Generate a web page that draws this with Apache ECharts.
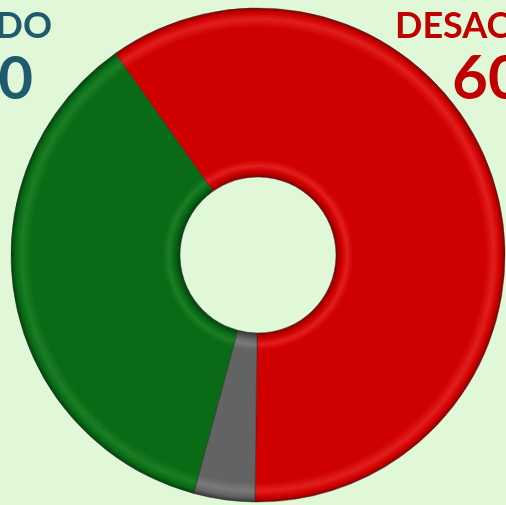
<!DOCTYPE html>
<html>
<head>
<meta charset="utf-8">
<script src="https://cdn.jsdelivr.net/npm/echarts@6/dist/echarts.min.js"></script>
<style>
  html, body { margin: 0; padding: 0; background: #e0f8d8; }
  #mychart { width: 506px; height: 505px; }
</style>
</head>
<body>
<div id="mychart"></div>
<script>
// datos
var categorias = ['DESACUERDO', 'NS/NC', 'ACUERDO'];
var valores = [60, 4, 36];
var etiquetas = ['60', '40'];

// colores base de cada sector (claro, medio, oscuro)
var tonos = [
  ['#e21e1e', '#cf0000', '#8a0000'],
  ['#7a7a7a', '#636363', '#363636'],
  ['#1b7d24', '#0a6b16', '#034010']
];

var cx = 258, cy = 255, rOut = 247, rIn = 78;

function bisel(t) {
  var a = rIn / rOut;
  return {
    type: 'radial', x: cx, y: cy, r: rOut, global: true,
    colorStops: [
      { offset: a, color: t[2] },
      { offset: a + 0.025, color: t[1] },
      { offset: a + 0.045, color: t[0] },
      { offset: a + 0.07, color: t[1] },
      { offset: 0.92, color: t[1] },
      { offset: 0.955, color: t[0] },
      { offset: 0.98, color: t[1] },
      { offset: 1, color: t[2] }
    ]
  };
}

var myChart = echarts.init(document.getElementById('mychart'));

var datos = categorias.map(function (c, i) {
  return {
    name: c,
    value: valores[i],
    itemStyle: { color: bisel(tonos[i]) }
  };
});

var option = {
  backgroundColor: '#e0f8d8',
  animation: false,
  series: [
    {
      type: 'pie',
      center: [cx, cy],
      radius: [rIn, rOut],
      startAngle: 125.3,
      clockwise: true,
      silent: true,
      label: { show: false },
      labelLine: { show: false },
      itemStyle: {
        borderColor: 'rgba(40,40,40,0.5)',
        borderWidth: 1
      },
      data: datos
    }
  ],
  graphic: [
    {
      type: 'text',
      x: 52, y: 26,
      style: {
        text: categorias[2], fill: '#1f5a6e',
        font: 'bold 36px Lato', align: 'right', verticalAlign: 'middle'
      }
    },
    {
      type: 'text',
      x: 33, y: 80,
      style: {
        text: etiquetas[1], fill: '#1f5a6e',
        font: 'bold 60px Lato', align: 'right', verticalAlign: 'middle'
      }
    },
    {
      type: 'text',
      x: 395, y: 26,
      style: {
        text: categorias[0], fill: '#c00000',
        font: 'bold 36px Lato', align: 'left', verticalAlign: 'middle'
      }
    },
    {
      type: 'text',
      x: 452, y: 79,
      style: {
        text: etiquetas[0], fill: '#c00000',
        font: 'bold 62px Lato', align: 'left', verticalAlign: 'middle'
      }
    }
  ]
};

myChart.setOption(option, true);
</script>
</body>
</html>
